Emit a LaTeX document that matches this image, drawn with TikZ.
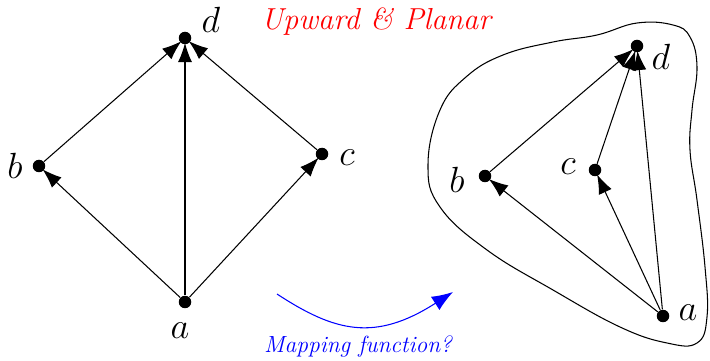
\documentclass[tikz,border=0pt]{standalone}
\usetikzlibrary{arrows.meta}
\tikzset{
  vertex/.style={circle, fill=black, inner sep=0pt, minimum size=0.25cm},
  lbl/.style={font=\huge, inner sep=1pt},
  edge/.style={-{Latex[length=11pt,width=8pt]}, line width=0.6pt, shorten >=-1pt}
}
\begin{document}
\begin{tikzpicture}[x=0.02cm, y=-0.02cm]
    \useasboundingbox (0,0) rectangle (710,361);
    % left drawing
    \node[vertex] (d1) at (185,38) {};
    \node[vertex] (b1) at (39,166) {};
    \node[vertex] (c1) at (322,154) {};
    \node[vertex] (a1) at (185,302) {};
    \node[lbl] (ld1) at (211,20) {$d$};
    \node[lbl] (lb1) at (15,166) {$b$};
    \node[lbl] (lc1) at (347,158) {$c$};
    \node[lbl] (la1) at (180,331) {$a$};
    \draw[edge] (b1) -- (d1);
    \draw[edge] (a1) -- (d1);
    \draw[edge] (c1) -- (d1);
    \draw[edge] (a1) -- (b1);
    \draw[edge] (a1) -- (c1);
    \node[red, font=\LARGE\itshape] (title) at (376,22) {Upward \& Planar};
    % mapping
    \coordinate (m0) at (277,294);
    \coordinate (m1) at (453,292);
    \draw[blue, line width=0.6pt, -{Latex[length=12pt,width=9pt]}]
      (m0) .. controls (335,332) and (375,342) .. (m1);
    \node[blue, font=\fontsize{13.3}{16}\selectfont\itshape] (map) at (358,347) {Mapping function?};
    % right drawing
    \draw[line width=0.6pt] plot[smooth cycle, tension=0.7] coordinates {
      (440,110) (466,77) (503,55) (553,42) (597,35) (637,23) (673,25)
      (690,37) (697,67) (692,110) (690,150) (697,200) (705,267) (707,317)
      (697,343) (667,343) (620,327) (553,290) (487,250) (440,207) (428,165)};
    \node[vertex] (d2) at (637,46) {};
    \node[vertex] (b2) at (485,176) {};
    \node[vertex] (c2) at (595,170) {};
    \node[vertex] (a2) at (663,316) {};
    \node[lbl] (ld2) at (661,57) {$d$};
    \node[lbl] (lb2) at (457,180) {$b$};
    \node[lbl] (lc2) at (568,167) {$c$};
    \node[lbl] (la2) at (688,313) {$a$};
    \draw[edge] (b2) -- (d2);
    \draw[edge] (c2) -- (d2);
    \draw[edge] (a2) -- (d2);
    \draw[edge] (a2) -- (b2);
    \draw[edge] (a2) -- (c2);
  \end{tikzpicture}
\end{document}
